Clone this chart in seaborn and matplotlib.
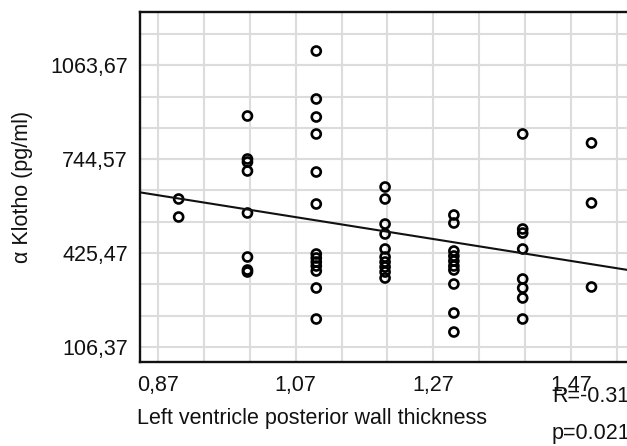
import numpy as np
import pandas as pd
import matplotlib
matplotlib.use("Agg")
import matplotlib.pyplot as plt
import seaborn as sns
from matplotlib.ticker import FixedLocator, FuncFormatter

# -------------------------- data --------------------------
thickness_levels = [0.9, 1.0, 1.1, 1.2, 1.3, 1.4, 1.5]

klotho_by_level = [
    [609.3, 548.1],
    [891.3, 745.2, 735.0, 704.4, 561.7, 412.2, 368.0, 361.2],
    [1112.2, 949.1, 887.9, 830.2, 701.0, 592.3, 422.4, 408.8, 395.2, 381.6, 364.6, 306.9, 201.5],
    [650.1, 609.3, 524.3, 490.4, 439.4, 412.2, 395.2, 378.2, 361.2, 340.8],
    [554.9, 527.7, 432.6, 415.6, 398.6, 381.6, 368.0, 320.4, 221.9, 157.3],
    [830.2, 507.3, 493.7, 439.4, 337.4, 306.9, 272.9, 201.5],
    [799.6, 595.7, 310.3],
]

x_ticks = [0.87, 1.07, 1.27, 1.47]
y_ticks = [106.37, 425.47, 744.57, 1063.67]

x_label = "Left ventricle posterior wall thickness"
y_label = "α Klotho (pg/ml)"
r_text = "R=-0.31"
p_text = "p=0.021"

rows = []
for lvl, vals in zip(thickness_levels, klotho_by_level):
    for v in vals:
        rows.append({"lvpwt": lvl, "klotho": v})
df = pd.DataFrame(rows)

# -------------------------- style --------------------------
sns.set_style("white")
plt.rcParams['font.family'] = ['Liberation Sans', 'DejaVu Sans']
FS = 15.5
TXT = '#111111'

fig = plt.figure(figsize=(6.27, 4.46), dpi=100)
# axes runs off the right edge of the picture, like the original
ax = fig.add_axes([140 / 627, 84 / 446, 520.3 / 627, 350 / 446])

ax.set_xlim(0.8438, 1.6)
ax.set_ylim(55.4, 1244.7)

x_step = 0.2 / 3
y_step = 106.37
ax.xaxis.set_major_locator(FixedLocator(x_ticks))
ax.xaxis.set_minor_locator(FixedLocator(x_ticks[0] + x_step * np.arange(-1, 12)))
ax.yaxis.set_major_locator(FixedLocator(y_ticks))
ax.yaxis.set_minor_locator(FixedLocator(y_step * np.arange(1, 12)))

comma = FuncFormatter(lambda v, pos: f"{v:.2f}".replace(".", ","))
ax.xaxis.set_major_formatter(comma)
ax.yaxis.set_major_formatter(comma)

ax.grid(True, which='both', color='#dcdcdc', linewidth=1.5)
ax.set_axisbelow(True)

ax.tick_params(which='both', length=0)
ax.tick_params(axis='x', pad=9.5, labelsize=FS, labelcolor=TXT)
ax.tick_params(axis='y', pad=8.6, labelsize=FS, labelcolor=TXT)

for side in ['left', 'bottom', 'top']:
    ax.spines[side].set_color('#111111')
    ax.spines[side].set_linewidth(1.7)
ax.spines['right'].set_visible(False)

# -------------------------- plot --------------------------
sns.regplot(
    data=df, x="lvpwt", y="klotho", ax=ax,
    ci=None, truncate=False,
    scatter_kws=dict(s=42, facecolors='none', edgecolors='black', linewidths=1.9, alpha=1),
    line_kws=dict(color='#111111', linewidth=1.5),
)

ax.set_xlim(0.8438, 1.6)
ax.set_ylim(55.4, 1244.7)

ax.set_xlabel(x_label, fontsize=FS, color=TXT, loc='left')
ax.xaxis.set_label_coords(-0.006, -0.131)
ax.set_ylabel(y_label, fontsize=FS, color=TXT)
ax.yaxis.set_label_coords(-0.205, 0.5)

fig.text(552 / 627, (446 - 396) / 446, r_text, fontsize=FS, color=TXT, va='center', ha='left')
fig.text(552 / 627, (446 - 434) / 446, p_text, fontsize=FS, color=TXT, va='center', ha='left')

fig.savefig("out.png", dpi=100)
